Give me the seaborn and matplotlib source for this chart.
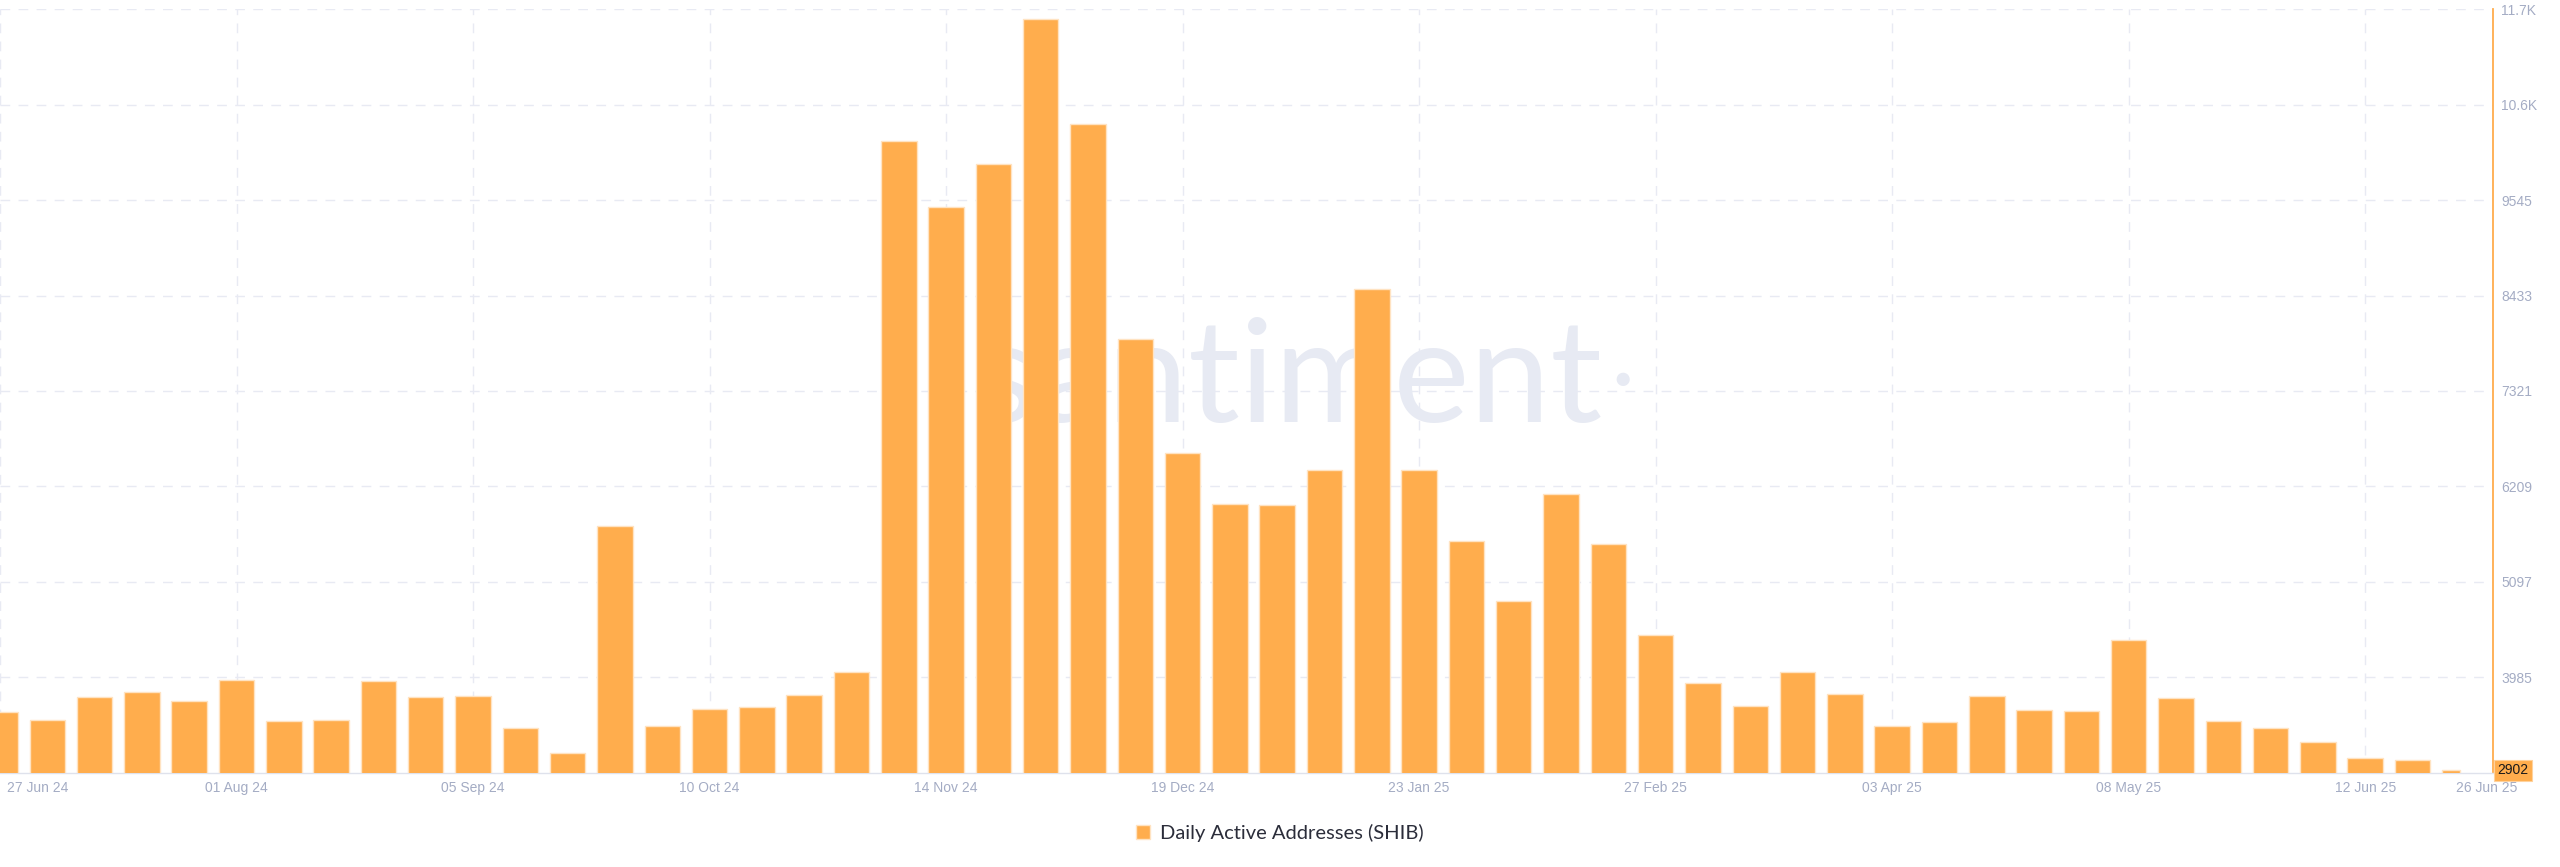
import pandas as pd
import matplotlib.pyplot as plt
import matplotlib.transforms as mtransforms
import seaborn as sns

# Weekly daily active addresses for SHIB
weeks = pd.date_range('2024-06-27', periods=53, freq='7D')
week_labels = [d.strftime('%d %b %y') for d in weeks]
active_addresses = [
    3580, 3487, 3751, 3810, 3708, 3953, 3475, 3483, 3941, 3759,
    3770, 3397, 3102, 5748, 3413, 3615, 3635, 3775, 4046, 10230,
    9465, 9962, 11652, 10428, 7927, 6598, 6000, 5995, 6404, 8506,
    6404, 5576, 4870, 6121, 5538, 4478, 3918, 3650, 4050, 3790,
    3417, 3464, 3770, 3607, 3595, 4416, 3740, 3472, 3394, 3234,
    3041, 3021, 2902,
]
series_name = 'Daily Active Addresses (SHIB)'
y_ticks = [3985, 5097, 6209, 7321, 8433, 9545, 10657, 11769]
y_tick_labels = ['3985', '5097', '6209', '7321', '8433', '9545', '10.6K', '11.7K']
y_range = (2873, 11769)

bar_color = '#ffad4d'
label_color = '#a4acc4'
grid_color = '#e8eaf3'
dash = (0, (7, 6))

df = pd.DataFrame({'week': week_labels, 'addresses': active_addresses})

sns.set_style('white')
plt.rcParams['font.family'] = ['Liberation Sans', 'DejaVu Sans']

fig = plt.figure(figsize=(25.6, 8.67), dpi=100)
ax = fig.add_axes([0, 0.1088, 0.9738, 0.8805])

sns.barplot(data=df, x='week', y='addresses', order=week_labels, color=bar_color,
            saturation=1, width=0.75, edgecolor='#ffe3c2', linewidth=1,
            label=series_name, ax=ax, zorder=3)

# last week is only partially complete
last = ax.patches[len(active_addresses) - 1]
last.set_width(last.get_width() / 2)

ax.set_xlim(0, 52.7)
ax.set_ylim(*y_range)

# y axis on the right
ax.yaxis.tick_right()
ax.set_yticks(y_ticks)
ax.set_yticklabels(y_tick_labels)
ax.tick_params(axis='y', length=0, pad=6, labelsize=10, labelcolor=label_color)

# x ticks every 5 weeks plus the last week
grid_pos = list(range(0, 51, 5))
tick_pos = grid_pos + [52]
ax.set_xticks(tick_pos)
ax.set_xticklabels([week_labels[i] for i in tick_pos])
ax.tick_params(axis='x', length=0, pad=6, labelsize=10, labelcolor=label_color)
ax.set_xlabel('')
ax.set_ylabel('')

xlabels = ax.get_xticklabels()
xlabels[0].set_horizontalalignment('left')
xlabels[0].set_transform(xlabels[0].get_transform() +
                         mtransforms.ScaledTranslation(0.07, 0, fig.dpi_scale_trans))
xlabels[-1].set_transform(xlabels[-1].get_transform() +
                          mtransforms.ScaledTranslation(0.27, 0, fig.dpi_scale_trans))

# dashed grid
ax.grid(False)
for yt in y_ticks:
    ax.axhline(yt, color=grid_color, linestyle=dash, linewidth=1, zorder=1)
for xt in grid_pos:
    ax.axvline(xt, color=grid_color, linestyle=dash, linewidth=1, zorder=1)

for side in ['top', 'left']:
    ax.spines[side].set_visible(False)
ax.spines['bottom'].set_color('#dfe2ec')
ax.spines['bottom'].set_linewidth(1)
ax.spines['right'].set_color(bar_color)
ax.spines['right'].set_linewidth(1.3)

# watermark, behind the bars
ax.text(0.503, 0.513, 'santiment', transform=fig.transFigure, fontsize=104, color='#e7eaf3',
        ha='center', va='baseline', family=['Lato', 'DejaVu Sans'], zorder=2)
ax.text(0.634, 0.562, '\u25cf', transform=fig.transFigure, fontsize=22, color='#e7eaf3',
        ha='center', va='center', zorder=2)

# last value marker on the right axis
ax.text(1.0017, active_addresses[-1], str(active_addresses[-1]),
        transform=ax.get_yaxis_transform(), ha='left', va='center', fontsize=10,
        color='#1a1a1a', bbox=dict(boxstyle='square,pad=0.25', fc=bar_color, ec='#ffd29c', lw=0.8),
        clip_on=False)

ax.legend(loc='center', bbox_to_anchor=(0.5, 0.039), bbox_transform=fig.transFigure,
          frameon=False, handlelength=0.7, handleheight=0.7, handletextpad=0.5,
          prop={'family': ['Lato', 'DejaVu Sans'], 'size': 14.5}, labelcolor='#2b2d3a')

fig.savefig('out.png', dpi=100)
